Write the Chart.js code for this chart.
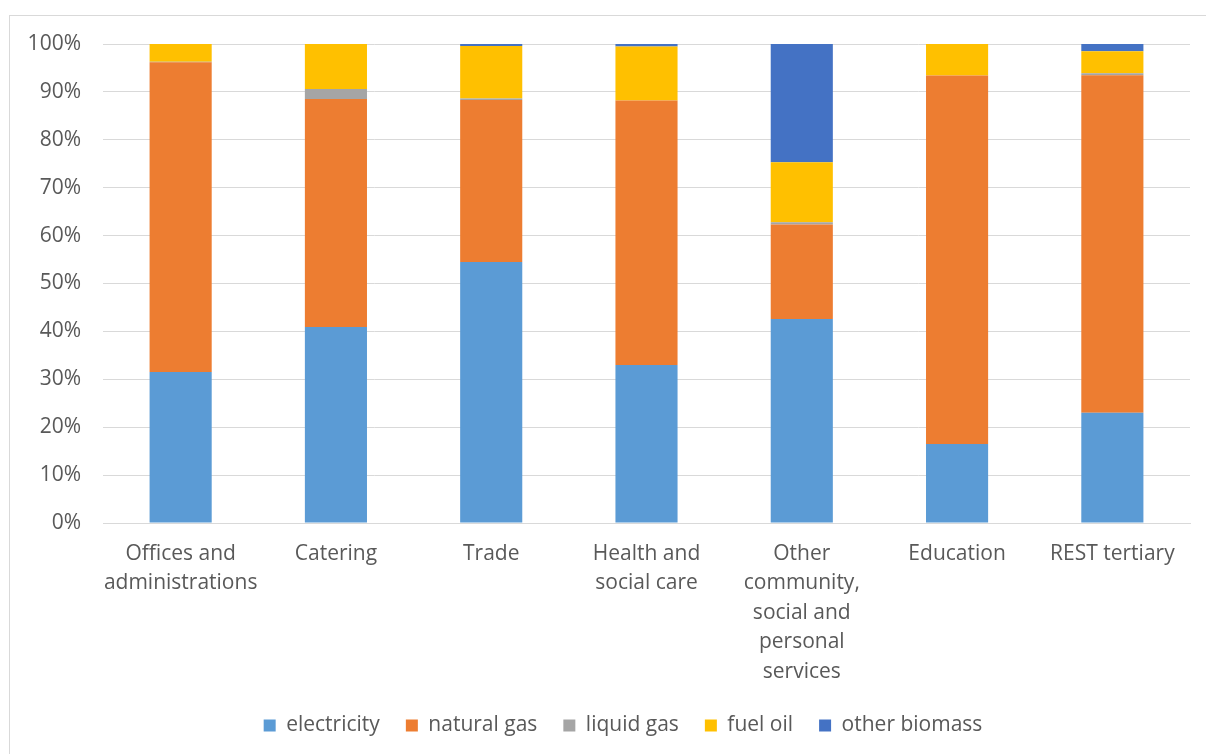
<!DOCTYPE html>
<html>
<head>
<meta charset="utf-8">
<script src="https://cdn.jsdelivr.net/npm/chart.js@4"></script>
<style>
  body { margin: 0; background: #fff; overflow: hidden; }
  #frame { position: absolute; left: 9px; top: 15px; width: 1210px; height: 760px; border: 1px solid #d9d9d9; }
  #wrap { position: absolute; left: 0; top: 0; width: 1206px; height: 746px; }
</style>
</head>
<body>
<div id="frame"></div>
<div id="wrap"><canvas id="myChart" width="1206" height="746"></canvas></div>
<script>
const categories = [
  ["Offices and", "administrations"],
  "Catering",
  "Trade",
  ["Health and", "social care"],
  ["Other", "community,", "social and", "personal", "services"],
  "Education",
  "REST tertiary"
]
const electricity = [31.5, 40.9, 54.5, 33.0, 42.6, 16.5, 23.0]
const naturalGas = [64.7, 47.6, 33.8, 55.2, 19.7, 76.9, 70.5]
const liquidGas = [0.1, 2.1, 0.3, 0.0, 0.5, 0.0, 0.4]
const fuelOil = [3.7, 9.4, 11.0, 11.3, 12.5, 6.6, 4.6]
const otherBiomass = [0.0, 0.0, 0.4, 0.5, 24.7, 0.0, 1.5]
const yTicks = [0, 10, 20, 30, 40, 50, 60, 70, 80, 90, 100]

const ctx = document.getElementById('myChart')
const textColor = "#595959"
const fontFamily = "'Open Sans', sans-serif"

function makeSet(label, data, color) {
  return {
    label: label,
    data: data,
    backgroundColor: color,
    borderWidth: 0,
    categoryPercentage: 1,
    barPercentage: 0.4
  }
}

// nudge the legend a bit right, like the original
const legendShift = {
  id: 'legendShift',
  afterLayout(chart) {
    chart.legend.left += 28
    chart.legend.right += 28
  }
}

new Chart(ctx, {
  type: 'bar',
  data: {
    labels: categories,
    datasets: [
      makeSet("electricity", electricity, "#5b9bd5"),
      makeSet("natural gas", naturalGas, "#ed7d31"),
      makeSet("liquid gas", liquidGas, "#a5a5a5"),
      makeSet("fuel oil", fuelOil, "#ffc000"),
      makeSet("other biomass", otherBiomass, "#4472c4")
    ]
  },
  plugins: [legendShift],
  options: {
    responsive: false,
    animation: false,
    layout: { padding: { top: 44, right: 16, left: 0, bottom: 0 } },
    plugins: {
      tooltip: { enabled: false },
      legend: {
        position: 'bottom',
        labels: {
          boxWidth: 12,
          boxHeight: 12,
          padding: 26,
          color: textColor,
          font: { family: fontFamily, size: 21 }
        }
      }
    },
    scales: {
      x: {
        stacked: true,
        grid: { display: false },
        border: { color: "#d9d9d9" },
        afterFit(scale) { scale.height = 166 },
        ticks: {
          color: textColor,
          maxRotation: 0,
          autoSkip: false,
          padding: 8,
          font: { family: fontFamily, size: 21, lineHeight: 1.405 }
        }
      },
      y: {
        stacked: true,
        min: 0,
        max: 100,
        afterFit(scale) { scale.width = 103 },
        afterBuildTicks(scale) { scale.ticks = yTicks.map(v => ({ value: v })) },
        grid: { color: "#d9d9d9", drawTicks: false },
        border: { display: false },
        ticks: {
          color: textColor,
          padding: 22,
          font: { family: fontFamily, size: 21 },
          callback: v => v + "%"
        }
      }
    }
  }
})
</script>
</body>
</html>
